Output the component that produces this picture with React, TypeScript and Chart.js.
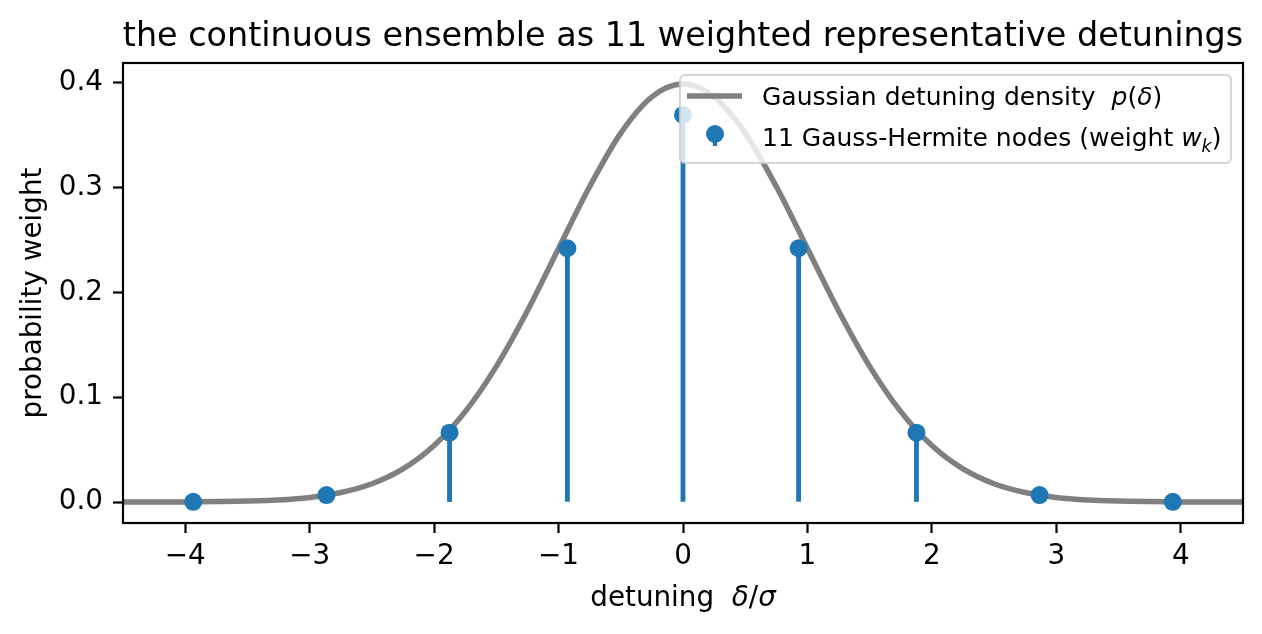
import { useEffect, useRef } from "react"
import { Chart, registerables } from "chart.js"

Chart.register(...registerables)

// values
const densityX = [
  -4.5, -4.25, -4, -3.75, -3.5, -3.25, -3, -2.75, -2.5, -2.25, -2, -1.75, -1.5, -1.25, -1, -0.75, -0.5, -0.25,
  0, 0.25, 0.5, 0.75, 1, 1.25, 1.5, 1.75, 2, 2.25, 2.5, 2.75, 3, 3.25, 3.5, 3.75, 4, 4.25, 4.5,
]
const densityY = [
  0.0, 0.0, 0.0001, 0.0004, 0.0009, 0.002, 0.0044, 0.0091, 0.0175, 0.0317, 0.054, 0.0863, 0.1295, 0.1826, 0.242,
  0.3011, 0.3521, 0.3867, 0.3989, 0.3867, 0.3521, 0.3011, 0.242, 0.1826, 0.1295, 0.0863, 0.054, 0.0317, 0.0175,
  0.0091, 0.0044, 0.002, 0.0009, 0.0004, 0.0001, 0.0, 0.0,
]
const nodeX = [-5.188, -3.936, -2.865, -1.876, -0.929, 0, 0.929, 1.876, 2.865, 3.936, 5.188]
const nodeWeight = [0.000001, 0.0002, 0.0067, 0.0662, 0.2422, 0.3694, 0.2422, 0.0662, 0.0067, 0.0002, 0.000001]
const xTicks = [-4, -3, -2, -1, 0, 1, 2, 3, 4]
const yTicks = [0, 0.1, 0.2, 0.3, 0.4]
const xRange = [-4.5, 4.5]
const yRange = [-0.02, 0.419]

type Part = { text: string; italic?: boolean; sub?: boolean }

const titleText = "the continuous ensemble as 11 weighted representative detunings"
const xLabel: Part[] = [{ text: "detuning  " }, { text: "δ", italic: true }, { text: "/" }, { text: "σ", italic: true }]
const yLabel = "probability weight"
const curveLabel: Part[] = [
  { text: "Gaussian detuning density  " },
  { text: "p", italic: true },
  { text: "(" },
  { text: "δ", italic: true },
  { text: ")" },
]
const nodeLabel: Part[] = [
  { text: "11 Gauss-Hermite nodes (weight " },
  { text: "w", italic: true },
  { text: "k", italic: true, sub: true },
  { text: ")" },
]

const FONT = "'DejaVu Sans', sans-serif"
const GRAY = "#808080"
const BLUE = "#1f77b4"

function partsWidth(ctx: CanvasRenderingContext2D, parts: Part[], size: number) {
  let w = 0
  for (const p of parts) {
    ctx.font = `${p.italic ? "italic " : ""}${p.sub ? size * 0.7 : size}px ${FONT}`
    w += ctx.measureText(p.text).width
  }
  return w
}

function drawParts(ctx: CanvasRenderingContext2D, parts: Part[], x: number, y: number, size: number) {
  let cx = x
  for (const p of parts) {
    ctx.font = `${p.italic ? "italic " : ""}${p.sub ? size * 0.7 : size}px ${FONT}`
    ctx.fillText(p.text, cx, y + (p.sub ? size * 0.22 : 0))
    cx += ctx.measureText(p.text).width
  }
}

const decorations = {
  id: "decorations",
  afterDraw(chart: Chart) {
    const { ctx, chartArea: a } = chart
    ctx.save()
    ctx.fillStyle = "#000"
    ctx.textBaseline = "alphabetic"

    // spines
    ctx.strokeStyle = "#000"
    ctx.lineWidth = 2.2
    ctx.strokeRect(a.left, a.top, a.right - a.left, a.bottom - a.top)

    // title
    ctx.textAlign = "center"
    ctx.font = `33.4px ${FONT}`
    ctx.fillText(titleText, (a.left + a.right) / 2, a.top - 17)

    // axis labels
    ctx.textAlign = "left"
    const xw = partsWidth(ctx, xLabel, 27.8)
    drawParts(ctx, xLabel, (a.left + a.right) / 2 - xw / 2, 606, 27.8)
    ctx.save()
    ctx.translate(41, (a.top + a.bottom) / 2)
    ctx.rotate(-Math.PI / 2)
    ctx.textAlign = "center"
    ctx.font = `27.8px ${FONT}`
    ctx.fillText(yLabel, 0, 0)
    ctx.restore()

    // legend
    const bx = a.right - 12 - 551
    const by = a.top + 12
    ctx.beginPath()
    ctx.roundRect(bx, by, 551, 88, 5)
    ctx.fillStyle = "rgba(255,255,255,0.8)"
    ctx.fill()
    ctx.strokeStyle = "rgba(204,204,204,0.8)"
    ctx.lineWidth = 2.2
    ctx.stroke()

    ctx.strokeStyle = GRAY
    ctx.lineWidth = 5.5
    ctx.beginPath()
    ctx.moveTo(bx + 7, by + 21)
    ctx.lineTo(bx + 62, by + 21)
    ctx.stroke()

    ctx.strokeStyle = BLUE
    ctx.lineWidth = 4.2
    ctx.beginPath()
    ctx.moveTo(bx + 35, by + 59)
    ctx.lineTo(bx + 35, by + 71)
    ctx.stroke()
    ctx.fillStyle = BLUE
    ctx.beginPath()
    ctx.arc(bx + 35, by + 59, 9, 0, Math.PI * 2)
    ctx.fill()

    ctx.fillStyle = "#000"
    ctx.textAlign = "left"
    drawParts(ctx, curveLabel, bx + 82, by + 30, 25)
    drawParts(ctx, nodeLabel, bx + 82, by + 71, 25)
    ctx.restore()
  },
}

export default function App() {
  const canvasRef = useRef<HTMLCanvasElement>(null)

  useEffect(() => {
    if (!canvasRef.current) return

    const chart = new Chart(canvasRef.current, {
      type: "scatter",
      data: {
        datasets: [
          {
            type: "line",
            label: "density",
            data: densityX.map((x, i) => ({ x, y: densityY[i] })),
            borderColor: GRAY,
            borderWidth: 5.5,
            pointRadius: 0,
            cubicInterpolationMode: "monotone",
            fill: false,
            order: 3,
          },
          {
            type: "bar",
            label: "stems",
            data: nodeX.map((x, i) => ({ x, y: [0, nodeWeight[i]] })) as any,
            backgroundColor: BLUE,
            borderWidth: 0,
            barThickness: 4.2,
            order: 2,
          },
          {
            type: "scatter",
            label: "nodes",
            data: nodeX.map((x, i) => ({ x, y: nodeWeight[i] })),
            pointRadius: 9,
            pointBackgroundColor: BLUE,
            pointBorderWidth: 0,
            order: 1,
          },
        ],
      },
      options: {
        responsive: true,
        maintainAspectRatio: false,
        animation: false,
        events: [],
        layout: { padding: { top: 63, right: 19, left: 0, bottom: 0 } },
        scales: {
          x: {
            type: "linear",
            min: xRange[0],
            max: xRange[1],
            offset: false,
            afterBuildTicks: (s) => {
              s.ticks = xTicks.map((value) => ({ value }))
            },
            afterFit: (s) => {
              s.height = 111
            },
            ticks: {
              color: "#000",
              font: { family: FONT, size: 27.8 },
              padding: 7,
              maxRotation: 0,
              callback: (v) => String(v).replace("-", "\u2212"),
            },
            grid: { drawOnChartArea: false, offset: false, tickLength: 10, tickWidth: 2.2, color: "#000" },
            border: { display: false },
          },
          y: {
            type: "linear",
            min: yRange[0],
            max: yRange[1],
            afterBuildTicks: (s) => {
              s.ticks = yTicks.map((value) => ({ value }))
            },
            afterFit: (s) => {
              s.width = 123
            },
            ticks: {
              color: "#000",
              font: { family: FONT, size: 27.8 },
              padding: 10,
              callback: (v) => Number(v).toFixed(1),
            },
            grid: { drawOnChartArea: false, tickLength: 10, tickWidth: 2.2, color: "#000" },
            border: { display: false },
          },
        },
        plugins: {
          legend: { display: false },
          tooltip: { enabled: false },
          title: { display: false },
        },
      },
      plugins: [decorations],
    })

    return () => {
      chart.destroy()
    }
  }, [])

  return (
    <div style={{ position: "fixed", left: 0, top: 0, width: 1262, height: 634, background: "#fff" }}>
      <canvas ref={canvasRef} />
    </div>
  )
}
